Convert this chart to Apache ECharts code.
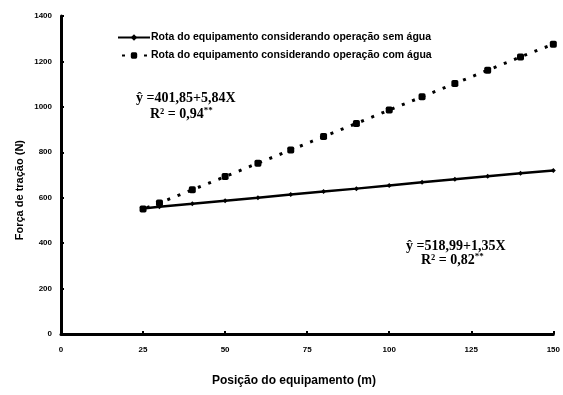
<!DOCTYPE html>
<html>
<head>
<meta charset="utf-8">
<script src="https://cdn.jsdelivr.net/npm/echarts@6/dist/echarts.min.js"></script>
<style>html,body{margin:0;padding:0;background:#fff}#c{width:563px;height:395px}</style>
</head>
<body>
<div id="c"></div>
<script>
const positions = [25, 30, 40, 50, 60, 70, 80, 90, 100, 110, 120, 130, 140, 150];
const semAgua = [553, 560, 573, 587, 600, 614, 627, 640, 654, 668, 681, 694, 708, 720];
const comAgua = [550, 577, 635, 693, 752, 810, 869, 927, 986, 1044, 1103, 1161, 1220, 1276];
const seriesNames = ['Rota do equipamento considerando operação sem água', 'Rota do equipamento considerando operação com água'];
const eq1 = ['ŷ =401,85+5,84X', 'R² = 0,94', '**'];
const eq2 = ['ŷ =518,99+1,35X', 'R² = 0,82', '**'];
const xTitle = 'Posição do equipamento (m)';
const yTitle = 'Força de tração (N)';

const chart = echarts.init(document.getElementById('c'));
const serif = 'Liberation Serif, Times New Roman';
const rEq = (t, x, y) => ({ type: 'text', left: x, top: y,
  style: { text: t, fill: '#000', font: 'bold 14px ' + serif } });
const rR2 = (t, s, x, y) => ({ type: 'text', left: x, top: y,
  style: { text: '{a|' + t + '}{b|' + s + '}', fill: '#000',
    rich: { a: { font: 'bold 14px ' + serif, fill: '#000' },
            b: { font: 'bold 9px ' + serif, fill: '#000', verticalAlign: 'top', padding: [0, 0, 8, 0] } } } });
chart.setOption({
  animation: false,
  grid: { left: 61, right: 9, top: 16, bottom: 61, containLabel: false },
  legend: {
    orient: 'vertical', left: 112, top: 27, itemWidth: 32, itemHeight: 8, itemGap: 7,
    textStyle: { color: '#000', fontWeight: 'bold', fontSize: 10.5, fontFamily: 'Liberation Sans, Arial', padding: [0, 0, 0, -4] },
    data: seriesNames
  },
  xAxis: {
    type: 'value', min: 0, max: 150, interval: 25,
    axisLine: { lineStyle: { color: '#000', width: 3 } },
    axisTick: { inside: true, length: 3, lineStyle: { color: '#000', width: 2 } },
    axisLabel: { color: '#000', fontWeight: 'bold', fontSize: 8, margin: 12, fontFamily: 'Liberation Sans, Arial', formatter: v => String(v) },
    splitLine: { show: false }
  },
  yAxis: {
    type: 'value', min: 0, max: 1400, interval: 200,
    axisLine: { show: true, lineStyle: { color: '#000', width: 3 } },
    axisTick: { show: true, inside: true, length: 3, lineStyle: { color: '#000', width: 2 } },
    axisLabel: { color: '#000', fontWeight: 'bold', fontSize: 8, margin: 9, fontFamily: 'Liberation Sans, Arial', formatter: v => String(v) },
    splitLine: { show: false }
  },
  graphic: [
    { type: 'text', left: 14, top: 140, rotation: Math.PI / 2,
      style: { text: yTitle, fill: '#000', font: 'bold 11px Liberation Sans, Arial' } },
    { type: 'text', left: 212, top: 375,
      style: { text: xTitle, fill: '#000', font: 'bold 12px Liberation Sans, Arial' } },
    rEq(eq1[0], 136, 91),
    rR2(eq1[1], eq1[2], 150, 106),
    rEq(eq2[0], 406, 239),
    rR2(eq2[1], eq2[2], 421, 252)
  ],
  series: [
    {
      name: seriesNames[0], type: 'line',
      data: positions.map((p, i) => [p, semAgua[i]]),
      symbol: 'diamond', symbolSize: 5,
      itemStyle: { color: '#000' },
      lineStyle: { color: '#000', width: 2.5 }
    },
    {
      name: seriesNames[1], type: 'line',
      data: positions.map((p, i) => [p, comAgua[i]]),
      symbol: 'roundRect', symbolSize: 7,
      itemStyle: { color: '#000' },
      lineStyle: { color: '#000', width: 3, type: [3, 8], dashOffset: -4 }
    }
  ]
});
</script>
</body>
</html>
